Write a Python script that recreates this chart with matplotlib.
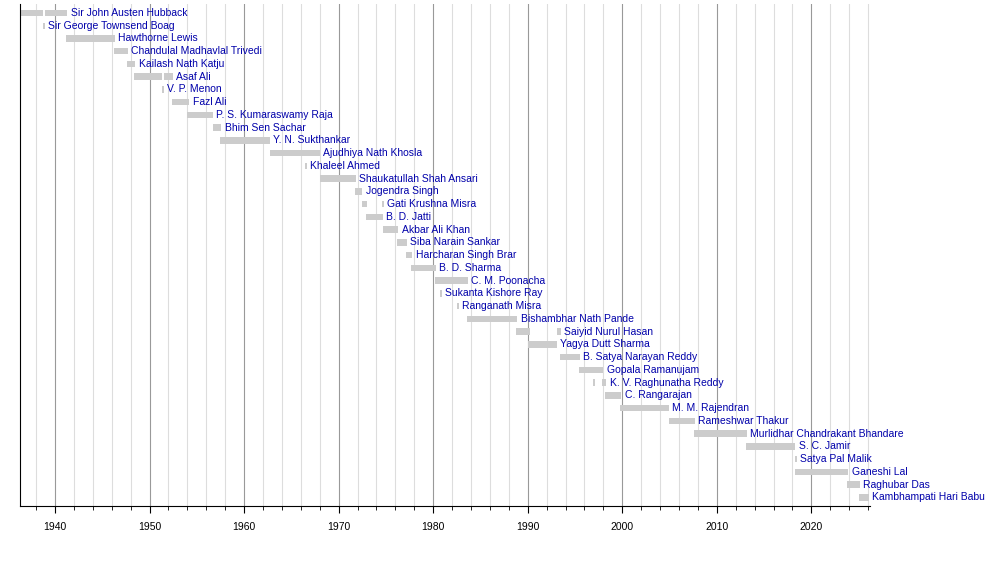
import matplotlib.pyplot as plt
from matplotlib.ticker import MultipleLocator

names = ["Sir John Austen Hubback", "Sir George Townsend Boag", "Hawthorne Lewis",
         "Chandulal Madhavlal Trivedi", "Kailash Nath Katju", "Asaf Ali", "V. P. Menon",
         "Fazl Ali", "P. S. Kumaraswamy Raja", "Bhim Sen Sachar", "Y. N. Sukthankar",
         "Ajudhiya Nath Khosla", "Khaleel Ahmed", "Shaukatullah Shah Ansari", "Jogendra Singh",
         "Gati Krushna Misra", "B. D. Jatti", "Akbar Ali Khan", "Siba Narain Sankar",
         "Harcharan Singh Brar", "B. D. Sharma", "C. M. Poonacha", "Sukanta Kishore Ray",
         "Ranganath Misra", "Bishambhar Nath Pande", "Saiyid Nurul Hasan", "Yagya Dutt Sharma",
         "B. Satya Narayan Reddy", "Gopala Ramanujam", "K. V. Raghunatha Reddy", "C. Rangarajan",
         "M. M. Rajendran", "Rameshwar Thakur", "Murlidhar Chandrakant Bhandare", "S. C. Jamir",
         "Satya Pal Malik", "Ganeshi Lal", "Raghubar Das", "Kambhampati Hari Babu"]

# one entry per term: row index, start year, end year
term_row = [0, 0, 1, 2, 3, 4, 5, 5, 6, 7, 8, 9, 10, 11, 12, 13, 14, 15, 15, 16, 17, 18,
            19, 20, 21, 22, 23, 24, 25, 25, 26, 27, 28, 29, 29, 30, 31, 32, 33, 34, 35, 36,
            37, 38]
term_start = [1936.3, 1938.9, 1938.7, 1941.2, 1946.2, 1947.6, 1948.4, 1951.5, 1951.35, 1952.4,
              1954.0, 1956.7, 1957.5, 1962.7, 1966.45, 1968.0, 1971.7, 1972.5, 1974.55, 1972.9,
              1974.7, 1976.2, 1977.1, 1977.7, 1980.2, 1980.75, 1982.55, 1983.6, 1988.8, 1993.1,
              1990.0, 1993.4, 1995.4, 1996.95, 1997.9, 1998.2, 1999.8, 2004.9, 2007.6, 2013.1,
              2018.25, 2018.3, 2023.8, 2025.0]
term_end = [1938.7, 1941.3, 1938.95, 1946.3, 1947.7, 1948.5, 1951.3, 1952.5, 1951.55, 1954.2,
            1956.7, 1957.6, 1962.7, 1968.0, 1966.65, 1971.8, 1972.5, 1973.0, 1974.75, 1974.7,
            1976.3, 1977.2, 1977.8, 1980.3, 1983.7, 1980.95, 1982.75, 1988.9, 1990.2, 1993.5,
            1993.1, 1995.5, 1998.0, 1997.15, 1998.3, 1999.9, 2004.9, 2007.7, 2013.2, 2018.3,
            2018.45, 2023.9, 2025.1, 2026.1]

fig = plt.figure(figsize=(10, 5.74), dpi=100)
ax = fig.add_axes([0.02, 0.118, 0.85, 0.875])

for r, s, e in zip(term_row, term_start, term_end):
    ax.barh(r, e - s, left=s, height=0.5, color="#cccccc", zorder=2)

for i, n in enumerate(names):
    end = max(e for r, e in zip(term_row, term_end) if r == i)
    ax.text(end + 0.35, i, n, va="center", ha="left", fontsize=7.5, color="#0000aa",
            family="Liberation Sans", zorder=3)

ax.set_xlim(1936.3, 2026.2)
ax.set_ylim(len(names) - 0.3, -0.7)
ax.xaxis.set_major_locator(MultipleLocator(10))
ax.xaxis.set_minor_locator(MultipleLocator(2))
ax.grid(True, which="major", axis="x", color="#999999", linewidth=0.8, zorder=0)
ax.grid(True, which="minor", axis="x", color="#dddddd", linewidth=0.8, zorder=0)
ax.set_yticks([])
for side in ["top", "right"]:
    ax.spines[side].set_visible(False)
ax.spines["left"].set_linewidth(0.8)
ax.spines["bottom"].set_linewidth(0.8)
ax.tick_params(axis="x", which="major", length=5, labelsize=7.5, pad=6)
ax.tick_params(axis="x", which="minor", length=3)
for lbl in ax.get_xticklabels():
    lbl.set_family("Liberation Sans")

fig.savefig("out.png")
